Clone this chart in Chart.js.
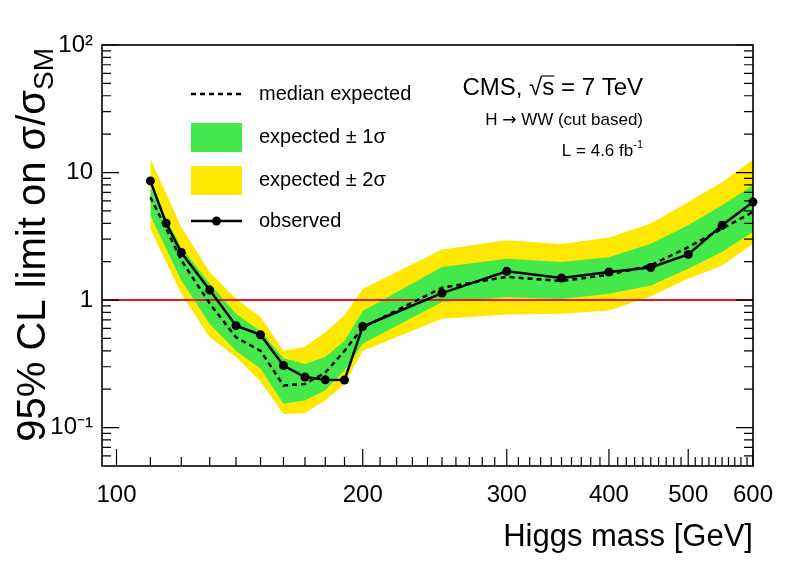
<!DOCTYPE html>
<html>
<head>
<meta charset="utf-8">
<script src="https://cdn.jsdelivr.net/npm/chart.js@4.4.1/dist/chart.umd.min.js"></script>
<style>
  html, body { margin: 0; padding: 0; background: #fff; }
  canvas { display: block; }
</style>
</head>
<body>
<canvas id="limitChart" width="788" height="566"></canvas>
<script>
// Higgs mass points (GeV) and limits on sigma/sigma_SM
const massGeV = [110, 115, 120, 130, 140, 150, 160, 170, 180, 190, 200, 250, 300, 350, 400, 450, 500, 550, 600];
const observed = [8.6, 4.0, 2.36, 1.2, 0.63, 0.535, 0.307, 0.249, 0.237, 0.236, 0.62, 1.135, 1.68, 1.49, 1.66, 1.8, 2.28, 3.86, 5.88];
const expMedian = [6.4, 3.63, 2.05, 0.94, 0.51, 0.40, 0.214, 0.22, 0.27, 0.40, 0.61, 1.25, 1.52, 1.41, 1.58, 1.87, 2.6, 3.63, 4.91];
const exp1Lo = [4.6, 2.53, 1.43, 0.65, 0.40, 0.29, 0.154, 0.163, 0.196, 0.28, 0.455, 0.965, 1.05, 1.02, 1.12, 1.30, 1.76, 2.38, 3.42];
const exp1Hi = [7.7, 4.35, 2.6, 1.35, 0.78, 0.57, 0.35, 0.316, 0.357, 0.48, 0.82, 1.82, 2.11, 1.99, 2.17, 2.77, 3.86, 5.55, 7.95];
const exp2Lo = [3.63, 2.0, 1.12, 0.51, 0.357, 0.23, 0.128, 0.13, 0.163, 0.22, 0.40, 0.715, 0.77, 0.78, 0.83, 1.07, 1.47, 1.87, 2.77];
const exp2Hi = [12.9, 6.84, 3.74, 1.66, 1.02, 0.74, 0.40, 0.43, 0.56, 0.76, 1.22, 2.49, 2.94, 2.75, 3.09, 3.98, 5.88, 8.4, 12.6];

const smLevel = 1;
const xMin = 96, xMax = 600;
const yMin = 0.05, yMax = 100;

// axis ticks
const xTickLabels = [100, 200, 300, 400, 500, 600];
const xTickVals = [];
for (let v = 100; v <= 600; v += 10) xTickVals.push(v);
const yMajor = [0.1, 1, 10, 100];
const yTickNames = {100: '10\u00B2', 10: '10', 1: '1', 0.1: '10\u207B\u00B9'};
const yTickVals = [0.06, 0.07, 0.08, 0.09, 0.1, 0.2, 0.3, 0.4, 0.5, 0.6, 0.7, 0.8, 0.9,
  1, 2, 3, 4, 5, 6, 7, 8, 9, 10, 20, 30, 40, 50, 60, 70, 80, 90, 100];

const FONT = "'Liberation Sans', Arial, Helvetica, sans-serif";
const yellow = '#ffe800';
const green = '#45e84c';
const red = '#e31a1c';

function pts(vals) {
  return massGeV.map((m, i) => ({x: m, y: vals[i]}));
}

// draws text pieces left to right so that the whole run ends at xRight
function runRight(ctx, pieces, xRight, y) {
  const w = pieces.map(p => { ctx.font = p.font; return ctx.measureText(p.text).width; });
  let cx = xRight - w.reduce((s, v) => s + v, 0);
  pieces.forEach((p, i) => {
    ctx.font = p.font;
    ctx.fillText(p.text, cx, y + (p.dy || 0));
    if (p.over) {
      ctx.lineWidth = 1.2;
      ctx.beginPath();
      ctx.moveTo(cx - 1, y - p.over);
      ctx.lineTo(cx + w[i], y - p.over);
      ctx.stroke();
    }
    cx += w[i];
  });
}

const rootStyle = {
  id: 'rootStyle',
  afterDatasetsDraw(chart) {
    const {ctx, chartArea: a, scales: {x, y}} = chart;
    ctx.save();
    ctx.strokeStyle = '#000';
    ctx.lineWidth = 1.2;
    ctx.beginPath();
    xTickVals.forEach(v => {
      const px = x.getPixelForValue(v);
      const len = xTickLabels.includes(v) ? 17 : 9;
      ctx.moveTo(px, a.bottom);
      ctx.lineTo(px, a.bottom - len);
    });
    yTickVals.forEach(v => {
      const py = y.getPixelForValue(v);
      const len = yMajor.includes(v) ? 17 : 9;
      ctx.moveTo(a.left, py);
      ctx.lineTo(a.left + len, py);
      ctx.moveTo(a.right, py);
      ctx.lineTo(a.right - len, py);
    });
    ctx.stroke();
    ctx.lineWidth = 1.6;
    ctx.strokeRect(a.left, a.top, a.right - a.left, a.bottom - a.top);
    ctx.restore();
  },
  afterDraw(chart) {
    const {ctx, chartArea: a} = chart;
    ctx.save();
    ctx.fillStyle = '#000';
    ctx.strokeStyle = '#000';

    // y axis title with subscript
    const main = '95% CL limit on \u03C3/\u03C3';
    ctx.font = '40px ' + FONT;
    const mainW = ctx.measureText(main).width;
    ctx.font = '28px ' + FONT;
    const subW = ctx.measureText('SM').width;
    ctx.translate(45, a.top + 3);
    ctx.rotate(-Math.PI / 2);
    ctx.textBaseline = 'alphabetic';
    ctx.textAlign = 'left';
    ctx.font = '40px ' + FONT;
    ctx.fillText(main, -(mainW + subW), 0);
    ctx.font = '28px ' + FONT;
    ctx.fillText('SM', -subW, 8);
    ctx.setTransform(1, 0, 0, 1, 0, 0);

    // legend
    const lx0 = 191, lx1 = 242, tx = 259;
    ctx.lineWidth = 2.5;
    ctx.setLineDash([5, 4]);
    ctx.beginPath();
    ctx.moveTo(lx0, 94); ctx.lineTo(lx1, 94);
    ctx.stroke();
    ctx.setLineDash([]);
    ctx.fillStyle = green;
    ctx.fillRect(lx0, 123, lx1 - lx0, 29);
    ctx.fillStyle = yellow;
    ctx.fillRect(lx0, 166, lx1 - lx0, 29);
    ctx.fillStyle = '#000';
    ctx.beginPath();
    ctx.moveTo(lx0, 221); ctx.lineTo(lx1, 221);
    ctx.stroke();
    ctx.beginPath();
    ctx.arc((lx0 + lx1) / 2, 221, 4.5, 0, Math.PI * 2);
    ctx.fill();

    ctx.font = '20px ' + FONT;
    ctx.textAlign = 'left';
    ctx.textBaseline = 'middle';
    ctx.fillText('median expected', tx, 94);
    ctx.fillText('expected \u00B1 1\u03C3', tx, 137);
    ctx.fillText('expected \u00B1 2\u03C3', tx, 180);
    ctx.fillText('observed', tx, 221);

    // CMS label block, right aligned
    const right = 643;
    ctx.textBaseline = 'alphabetic';
    const f24 = '24px ' + FONT, f17 = '17px ' + FONT;
    runRight(ctx, [
      {text: 'CMS, ', font: f24},
      {text: '\u221A', font: f24},
      {text: 's', font: f24, over: 19},
      {text: ' = 7 TeV', font: f24}
    ], right, 95);
    runRight(ctx, [
      {text: 'H ', font: f17},
      {text: '\u2192', font: "17px 'DejaVu Sans', sans-serif"},
      {text: ' WW (cut based)', font: f17}
    ], right, 125);
    runRight(ctx, [
      {text: 'L = 4.6 fb', font: f17},
      {text: '-1', font: '11px ' + FONT, dy: -8}
    ], right, 156);
    ctx.restore();
  }
};

new Chart(document.getElementById('limitChart'), {
  type: 'line',
  data: {
    datasets: [
      {
        label: 'observed',
        data: pts(observed),
        borderColor: '#000',
        backgroundColor: '#000',
        borderWidth: 2.5,
        pointRadius: 4.5,
        pointBorderWidth: 0,
        pointBackgroundColor: '#000',
        clip: 8,
        fill: false
      },
      {
        label: 'median expected',
        data: pts(expMedian),
        borderColor: '#000',
        borderWidth: 2.5,
        borderDash: [5, 4],
        pointRadius: 0,
        fill: false
      },
      {
        label: 'SM',
        data: [{x: xMin, y: smLevel}, {x: xMax, y: smLevel}],
        borderColor: red,
        borderWidth: 2,
        pointRadius: 0,
        fill: false
      },
      {
        label: 'expected +1 sigma',
        data: pts(exp1Hi),
        borderColor: 'rgba(0,0,0,0)',
        borderWidth: 0,
        backgroundColor: green,
        pointRadius: 0,
        fill: '+1'
      },
      {
        label: 'expected -1 sigma',
        data: pts(exp1Lo),
        borderColor: 'rgba(0,0,0,0)',
        borderWidth: 0,
        pointRadius: 0,
        fill: false
      },
      {
        label: 'expected +2 sigma',
        data: pts(exp2Hi),
        borderColor: 'rgba(0,0,0,0)',
        borderWidth: 0,
        backgroundColor: yellow,
        pointRadius: 0,
        fill: '+1'
      },
      {
        label: 'expected -2 sigma',
        data: pts(exp2Lo),
        borderColor: 'rgba(0,0,0,0)',
        borderWidth: 0,
        pointRadius: 0,
        fill: false
      }
    ]
  },
  options: {
    responsive: false,
    animation: false,
    devicePixelRatio: 1,
    layout: {padding: {left: 0, right: 34, top: 45, bottom: 0}},
    elements: {line: {tension: 0}},
    plugins: {
      legend: {display: false},
      tooltip: {enabled: false},
      filler: {drawTime: 'beforeDatasetDraw'}
    },
    scales: {
      x: {
        type: 'logarithmic',
        min: xMin,
        max: xMax,
        afterBuildTicks: s => { s.ticks = xTickVals.map(v => ({value: v})); },
        afterFit: s => { s.height = 100; },
        grid: {display: false, drawTicks: false},
        border: {display: false},
        ticks: {
          autoSkip: false,
          maxRotation: 0,
          minRotation: 0,
          padding: 15,
          color: '#000',
          font: {size: 24, family: FONT},
          callback: v => xTickLabels.includes(v) ? String(v) : ''
        },
        title: {
          display: true,
          text: 'Higgs mass [GeV]',
          align: 'end',
          color: '#000',
          font: {size: 31, family: FONT},
          padding: {top: 0, bottom: 10}
        }
      },
      y: {
        type: 'logarithmic',
        min: yMin,
        max: yMax,
        afterBuildTicks: s => { s.ticks = yMajor.map(v => ({value: v})); },
        afterFit: s => { s.width = 102; },
        grid: {display: false, drawTicks: false},
        border: {display: false},
        ticks: {
          autoSkip: false,
          padding: 9,
          color: '#000',
          font: {size: 24, family: FONT},
          callback: v => yTickNames[v] || ''
        }
      }
    }
  },
  plugins: [rootStyle]
});
</script>
</body>
</html>
